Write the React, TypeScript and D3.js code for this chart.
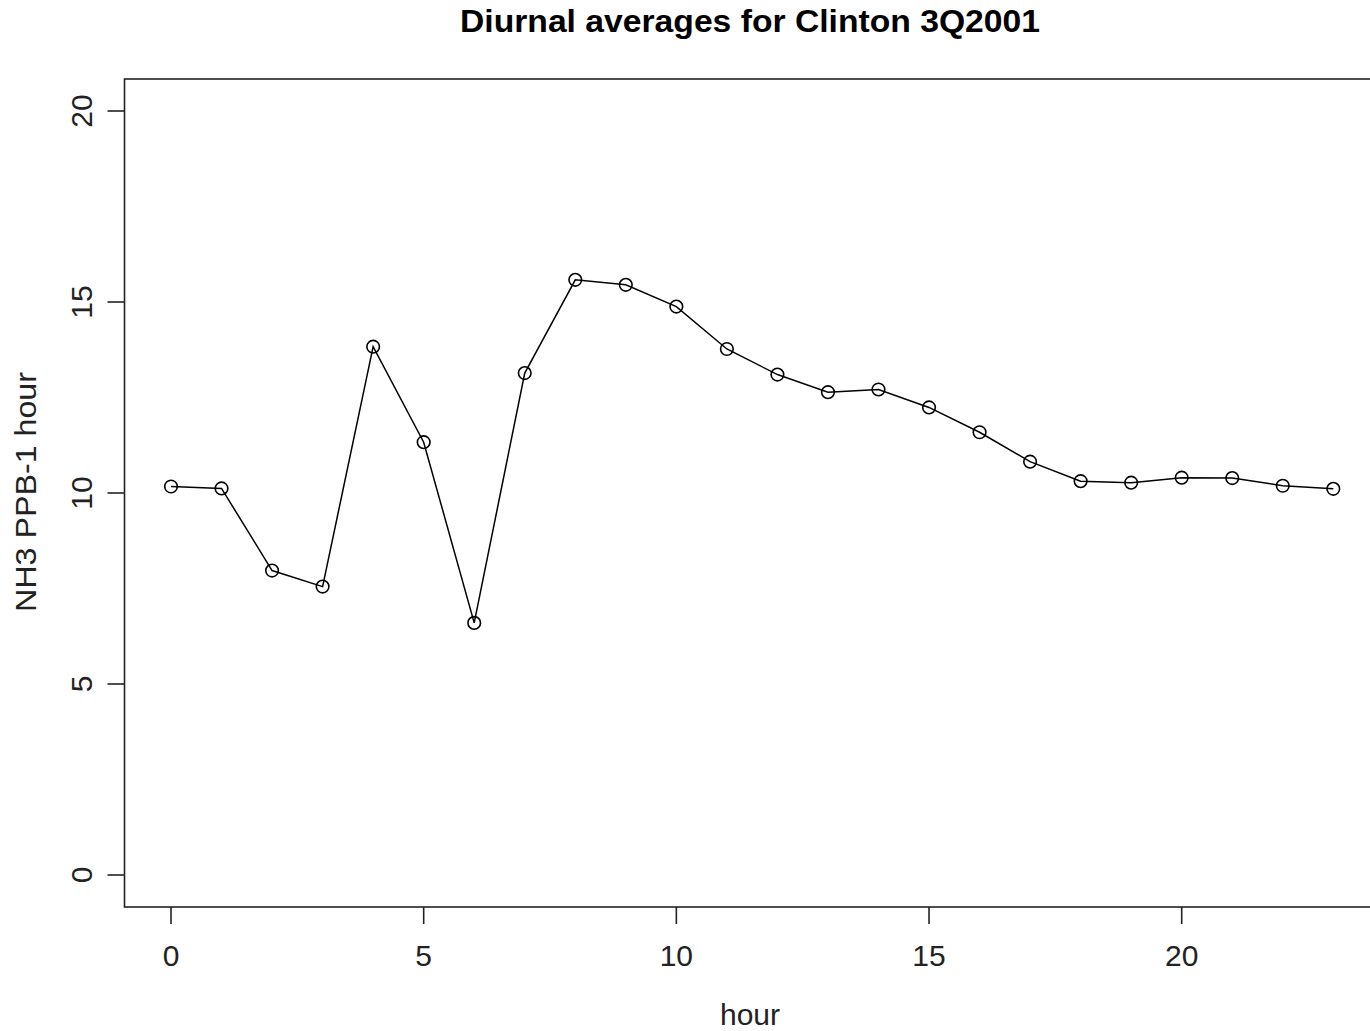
import React from "react";
import * as d3 from "d3";

const hours = [0,1,2,3,4,5,6,7,8,9,10,11,12,13,14,15,16,17,18,19,20,21,22,23];
const nh3 = [10.17,10.12,7.97,7.55,13.83,11.33,6.6,13.14,15.58,15.45,14.88,13.77,13.1,12.64,12.71,12.24,11.59,10.82,10.31,10.27,10.4,10.39,10.19,10.11];
const xTicks = [0,5,10,15,20];
const yTicks = [0,5,10,15,20];
const title = "Diurnal averages for Clinton 3Q2001";
const xLabel = "hour";
const yLabel = "NH3 PPB-1 hour";

export default function App() {
  const W = 1370, H = 1031;
  const x = d3.scaleLinear().domain([0, 20]).range([171, 1181.7]);
  const y = d3.scaleLinear().domain([0, 20]).range([875, 111]);
  const left = x(-0.92), right = x(23.92);
  const top = 79, bottom = 907;
  const line = d3.line<number>().x((_, i) => x(hours[i])).y((d) => y(d));
  const font = "'Liberation Sans', Arial, sans-serif";
  return (
    <div style={{ position: "absolute", left: 0, top: 0 }}>
      <svg width={W} height={H} style={{ display: "block", background: "#fff" }}>
        <text x={750} y={32} textAnchor="middle" fontFamily={font} fontWeight="bold" fontSize={31} textLength={580} lengthAdjust="spacingAndGlyphs" fill="#000">{title}</text>
        <rect x={left} y={top} width={right - left} height={bottom - top} fill="none" stroke="#222" strokeWidth={1.6} />
        {xTicks.map((t) => (
          <g key={"x" + t}>
            <line x1={x(t)} x2={x(t)} y1={bottom} y2={bottom + 17} stroke="#222" strokeWidth={1.6} />
            <text x={x(t)} y={966} textAnchor="middle" fontFamily={font} fontSize={30} fill="#222">{t}</text>
          </g>
        ))}
        {yTicks.map((t) => (
          <g key={"y" + t}>
            <line x1={left - 17} x2={left} y1={y(t)} y2={y(t)} stroke="#222" strokeWidth={1.6} />
            <text transform={`translate(${92},${y(t)}) rotate(-90)`} textAnchor="middle" fontFamily={font} fontSize={30} fill="#222">{t}</text>
          </g>
        ))}
        <text x={750} y={1025} textAnchor="middle" fontFamily={font} fontSize={30} fill="#222">{xLabel}</text>
        <text transform={`translate(${36},${492}) rotate(-90)`} textAnchor="middle" fontFamily={font} fontSize={30} textLength={240} lengthAdjust="spacingAndGlyphs" fill="#222">{yLabel}</text>
        <path d={line(nh3) || ""} fill="none" stroke="#000" strokeWidth={1.5} />
        {nh3.map((v, i) => (
          <circle key={i} cx={x(hours[i])} cy={y(v)} r={6.3} fill="none" stroke="#000" strokeWidth={1.6} />
        ))}
      </svg>
    </div>
  );
}
